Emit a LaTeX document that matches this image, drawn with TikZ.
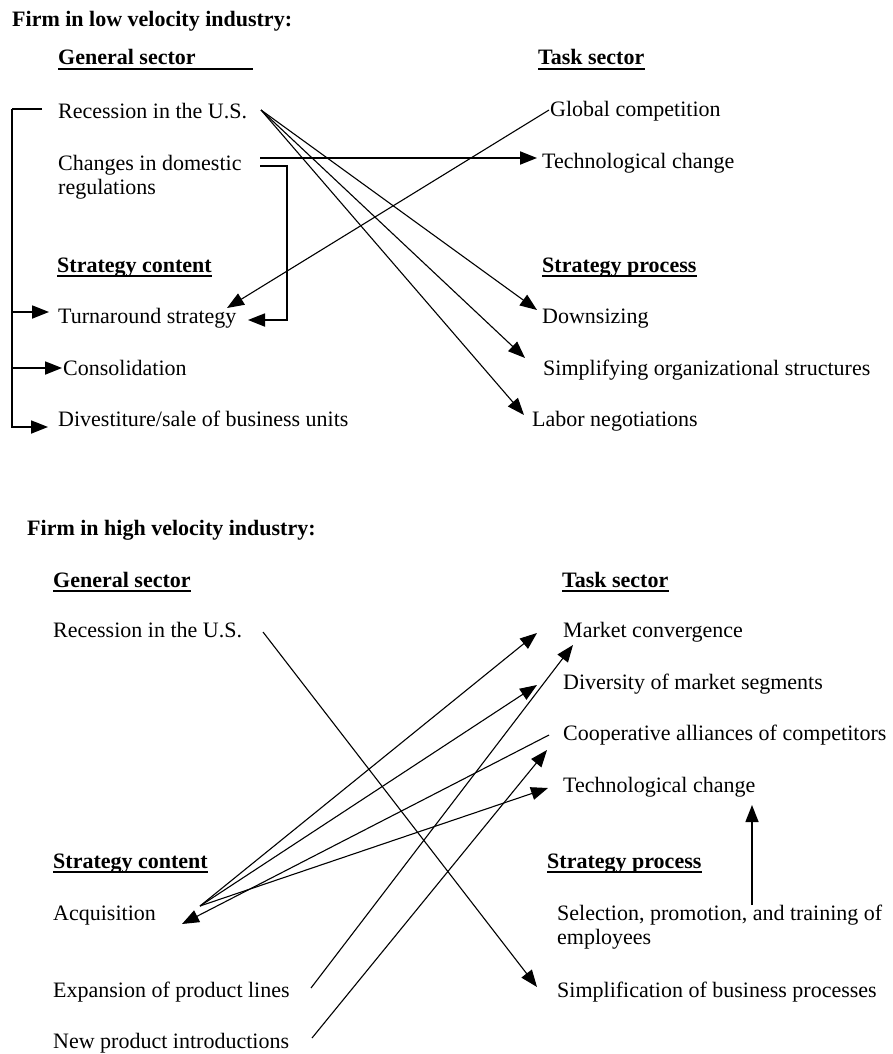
\documentclass[tikz,border=0pt]{standalone}
\usepackage{fontspec}
\setmainfont{Liberation Serif}
\usetikzlibrary{arrows.meta}
\begin{document}
\begin{tikzpicture}[x=1pt,y=-1pt,
  txt/.style={anchor=base west,inner sep=0pt,font=\fontsize{22}{24}\selectfont},
  hd/.style={anchor=base west,inner sep=0pt,font=\fontsize{22}{24}\selectfont\bfseries},
  ul/.style={line width=2.5pt},
  tipstyle/.style={-{Triangle[length=17pt,width=13pt]}},
  tl/.style={line width=1.1pt,tipstyle},
  bl/.style={line width=1.8pt,tipstyle},
  plain/.style={line width=1.8pt}
]
\useasboundingbox (0,0) rectangle (892,1054);

% ---------------- low velocity ----------------
\node[hd] (h1) at (12,27) {Firm in low velocity industry:};
\node[hd] (gs1) at (58,65) {General sector};
\node[hd] (ts1) at (538,65) {Task sector};
\node[txt] (rec1) at (58,119) {Recession in the U.S.};
\node[txt] (chg1) at (58,170) {Changes in domestic};
\node[txt] (chg2) at (58,194) {regulations};
\node[txt] (glob) at (550,117) {Global competition};
\node[txt] (tech1) at (542,168) {Technological change};
\node[hd] (sc1) at (57,272) {Strategy content};
\node[hd] (sp1) at (542,272) {Strategy process};
\node[txt] (turn) at (58,323) {Turnaround strategy};
\node[txt] (cons) at (63,375) {Consolidation};
\node[txt] (dive) at (58,426) {Divestiture/sale of business units};
\node[txt] (down) at (542,323) {Downsizing};
\node[txt] (simp) at (543,375) {Simplifying organizational structures};
\node[txt] (labor) at (532,426) {Labor negotiations};

\draw[ul] ([yshift=-4pt]gs1.base west) -- ++(195pt,0);
\draw[ul] ([yshift=-4pt]ts1.base west) -- ([yshift=-4pt]ts1.base east);
\draw[ul] ([yshift=-4pt]sc1.base west) -- ([yshift=-4pt]sc1.base east);
\draw[ul] ([yshift=-4pt]sp1.base west) -- ([yshift=-4pt]sp1.base east);

\coordinate (recL) at (42,109);
\coordinate (brk) at (12,109);
\coordinate (turnL) at (49,312);
\coordinate (consL) at (62,368);
\coordinate (diveL) at (48,427);
\draw[plain] (recL) -- (brk);
\draw[bl] (brk) |- (turnL);
\draw[bl] (brk) |- (consL);
\draw[bl] (brk) |- (diveL);

\coordinate (chgA) at (260,158);
\coordinate (tech1L) at (537,158);
\draw[bl] (chgA) -- (tech1L);
\coordinate (chgB) at (260,166);
\coordinate (chgC) at (287,320);
\coordinate (turnR) at (248,320);
\draw[bl] (chgB) -| (chgC) -- (turnR);

\coordinate (globL) at (549,110);
\coordinate (turnT) at (227,308);
\draw[tl] (globL) -- (turnT);

\coordinate (recR) at (261,110);
\coordinate (downL) at (537,310);
\coordinate (simpL) at (525,358);
\coordinate (laborL) at (524,415);
\draw[tl] (recR) -- (downL);
\draw[tl] (recR) -- (simpL);
\draw[tl] (recR) -- (laborL);

% ---------------- high velocity ----------------
\node[hd] (h2) at (27,535) {Firm in high velocity industry:};
\node[hd] (gs2) at (53,587) {General sector};
\node[hd] (ts2) at (562,587) {Task sector};
\node[txt] (rec2) at (53,637) {Recession in the U.S.};
\node[txt] (mc) at (563,637) {Market convergence};
\node[txt] (div) at (563,689) {Diversity of market segments};
\node[txt] (coop) at (563,740) {Cooperative alliances of competitors};
\node[txt] (tech2) at (563,792) {Technological change};
\node[hd] (sc2) at (53,868) {Strategy content};
\node[hd] (sp2) at (547,868) {Strategy process};
\node[txt] (acq) at (53,920) {Acquisition};
\node[txt] (sel1) at (557,920) {Selection, promotion, and training of};
\node[txt] (sel2) at (557,944) {employees};
\node[txt] (expn) at (53,997) {Expansion of product lines};
\node[txt] (simpl) at (557,997) {Simplification of business processes};
\node[txt] (newp) at (53,1048) {New product introductions};

\draw[ul] ([yshift=-4pt]gs2.base west) -- ([yshift=-4pt]gs2.base east);
\draw[ul] ([yshift=-4pt]ts2.base west) -- ([yshift=-4pt]ts2.base east);
\draw[ul] ([yshift=-4pt]sc2.base west) -- ([yshift=-4pt]sc2.base east);
\draw[ul] ([yshift=-4pt]sp2.base west) -- ([yshift=-4pt]sp2.base east);

\coordinate (rec2R) at (263,632);
\coordinate (simplL) at (537,987);
\draw[tl] (rec2R) -- (simplL);

\coordinate (acqR) at (200,906);
\coordinate (mcL) at (537,633);
\coordinate (divL) at (537,685);
\coordinate (tech2L) at (548,788);
\draw[tl] (acqR) -- (mcL);
\draw[tl] (acqR) -- (divL);
\draw[tl] (acqR) -- (tech2L);

\coordinate (coopL) at (549,735);
\coordinate (acqT) at (182,924);
\draw[tl] (coopL) -- (acqT);

\coordinate (expR) at (311,988);
\coordinate (mcB) at (573,645);
\draw[tl] (expR) -- (mcB);

\coordinate (newR) at (312,1038);
\coordinate (coopB) at (547,750);
\draw[tl] (newR) -- (coopB);

\coordinate (selT) at (752,905);
\coordinate (tech2B) at (752,805);
\draw[line width=1.5pt,tipstyle] (selT) -- (tech2B);
\end{tikzpicture}
\end{document}
